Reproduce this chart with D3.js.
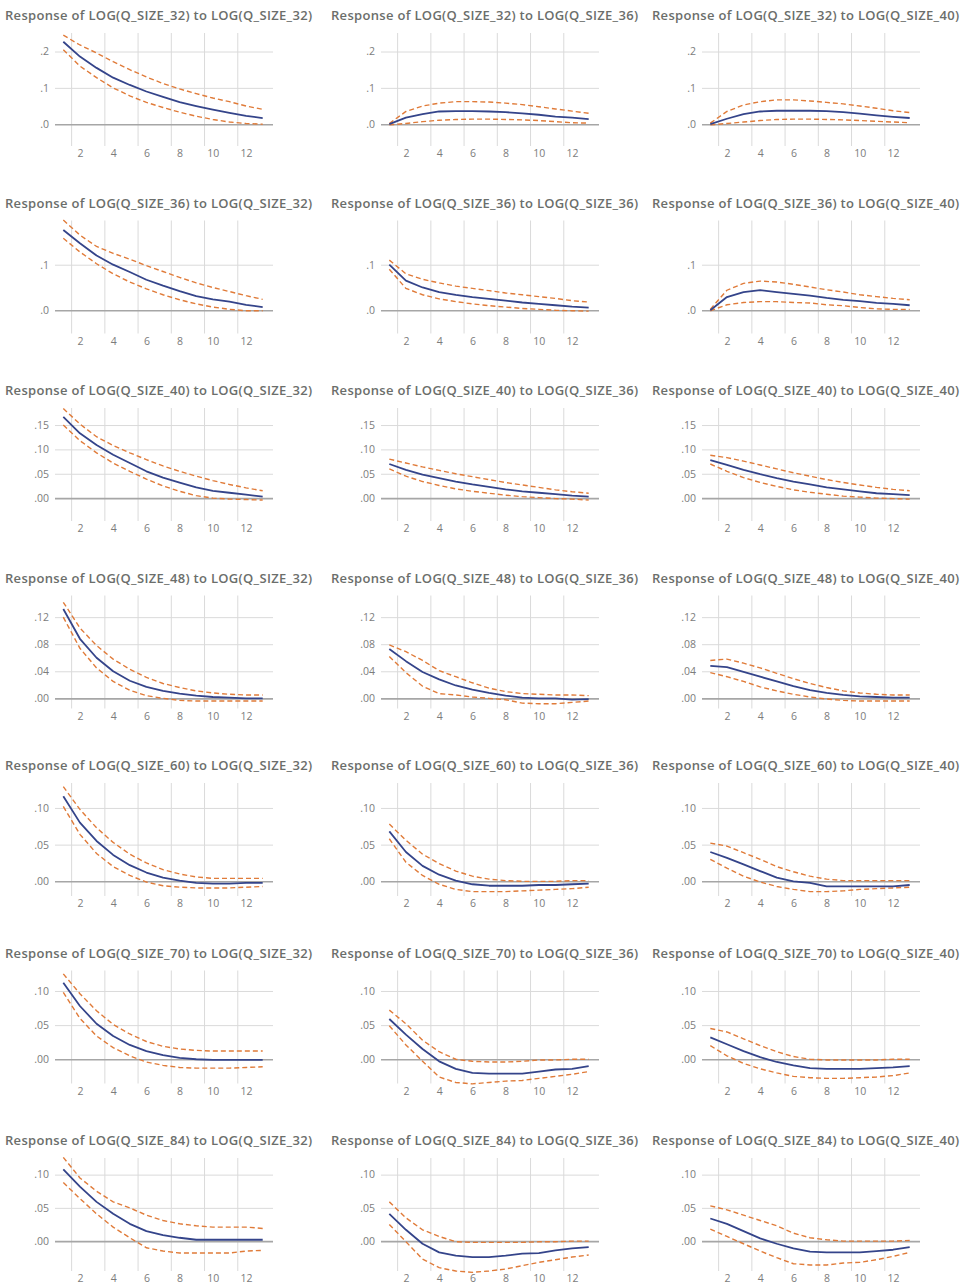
<!DOCTYPE html>
<html>
<head>
<meta charset="utf-8">
<script src="https://cdn.jsdelivr.net/npm/d3@7"></script>
<style>
  body { margin: 0; background: #fff; }
  svg { display: block; }
  .title { font-family: "Open Sans", sans-serif; font-size: 13px; font-weight: 600; fill: #6b6e6b; }
  .tick text { font-family: "Open Sans", sans-serif; font-size: 10.5px; fill: #7c7c7c; }
</style>
</head>
<body>
<svg id="chart" width="967" height="1287"></svg>
<script>
// impulse = column, response = row
var shocks = ["32", "36", "40"];
var responses = ["32", "36", "40", "48", "60", "70", "84"];
var xLabels = [2, 4, 6, 8, 10, 12];

// y ticks per response row
var rowTicks = [
  [0, 0.1, 0.2],
  [0, 0.1],
  [0, 0.05, 0.10, 0.15],
  [0, 0.04, 0.08, 0.12],
  [0, 0.05, 0.10],
  [0, 0.05, 0.10],
  [0, 0.05, 0.10]
];
var rowDomain = [
  [-0.060, 0.251],
  [-0.051, 0.197],
  [-0.047, 0.185],
  [-0.015, 0.152],
  [-0.020, 0.134],
  [-0.0355, 0.130],
  [-0.045, 0.125]
];
var rowDigits = [1, 1, 2, 2, 2, 2, 2];

// response / upper band / lower band, one array per shock (32, 36, 40), horizons 1..13
var irf32 = [
  [0.227,0.186,0.155,0.128,0.108,0.090,0.075,0.061,0.050,0.040,0.031,0.023,0.017],
  [0.000,0.018,0.028,0.035,0.036,0.036,0.035,0.033,0.030,0.026,0.021,0.018,0.014],
  [0.000,0.015,0.028,0.035,0.037,0.037,0.037,0.036,0.033,0.029,0.024,0.020,0.017]];
var hi32 = [
  [0.245,0.218,0.196,0.172,0.150,0.130,0.112,0.097,0.084,0.072,0.062,0.050,0.041],
  [0.002,0.035,0.050,0.058,0.062,0.062,0.061,0.058,0.054,0.048,0.042,0.036,0.030],
  [0.003,0.035,0.053,0.062,0.067,0.067,0.064,0.060,0.056,0.050,0.044,0.037,0.032]];
var lo32 = [
  [0.205,0.160,0.128,0.100,0.078,0.060,0.046,0.033,0.022,0.013,0.006,0.002,0.000],
  [-0.002,0.002,0.007,0.011,0.013,0.014,0.014,0.013,0.012,0.010,0.007,0.004,0.003],
  [-0.002,0.002,0.006,0.010,0.013,0.014,0.014,0.013,0.012,0.010,0.008,0.006,0.004]];

var irf36 = [
  [0.176,0.147,0.120,0.100,0.084,0.067,0.054,0.042,0.031,0.024,0.019,0.012,0.007],
  [0.100,0.065,0.050,0.040,0.034,0.029,0.025,0.021,0.017,0.014,0.011,0.008,0.006],
  [0.000,0.029,0.040,0.044,0.040,0.036,0.032,0.027,0.023,0.020,0.016,0.014,0.011]];
var hi36 = [
  [0.198,0.165,0.140,0.125,0.112,0.098,0.085,0.072,0.060,0.050,0.041,0.032,0.024],
  [0.110,0.080,0.068,0.060,0.053,0.048,0.043,0.038,0.034,0.030,0.026,0.021,0.018],
  [0.002,0.044,0.059,0.064,0.062,0.057,0.051,0.045,0.040,0.034,0.030,0.026,0.023]];
var lo36 = [
  [0.158,0.128,0.102,0.080,0.062,0.047,0.034,0.023,0.014,0.007,0.002,-0.001,-0.001],
  [0.090,0.048,0.034,0.025,0.019,0.014,0.010,0.007,0.004,0.002,0.000,-0.001,-0.002],
  [-0.001,0.012,0.017,0.019,0.019,0.017,0.016,0.012,0.010,0.006,0.003,0.002,0.002]];

var irf40 = [
  [0.167,0.133,0.109,0.089,0.072,0.055,0.042,0.032,0.022,0.015,0.011,0.007,0.003],
  [0.070,0.058,0.048,0.041,0.034,0.028,0.023,0.018,0.014,0.011,0.008,0.005,0.003],
  [0.078,0.068,0.058,0.049,0.041,0.034,0.028,0.022,0.018,0.014,0.010,0.008,0.006]];
var hi40 = [
  [0.184,0.152,0.126,0.108,0.093,0.079,0.066,0.055,0.045,0.036,0.028,0.021,0.015],
  [0.080,0.072,0.064,0.057,0.050,0.044,0.038,0.032,0.027,0.022,0.017,0.013,0.010],
  [0.088,0.083,0.076,0.068,0.060,0.052,0.045,0.038,0.032,0.027,0.022,0.018,0.015]];
var lo40 = [
  [0.150,0.118,0.093,0.072,0.055,0.039,0.025,0.014,0.005,0.000,-0.002,-0.003,-0.004],
  [0.060,0.045,0.034,0.026,0.019,0.014,0.010,0.006,0.003,0.001,-0.001,-0.002,-0.004],
  [0.070,0.055,0.042,0.032,0.024,0.017,0.012,0.008,0.004,0.002,0.000,-0.001,-0.002]];

var irf48 = [
  [0.132,0.088,0.060,0.040,0.026,0.017,0.011,0.007,0.004,0.002,0.001,0.000,0.000],
  [0.073,0.055,0.039,0.028,0.019,0.013,0.008,0.004,0.001,0.000,0.000,-0.002,-0.001],
  [0.048,0.046,0.039,0.032,0.025,0.018,0.012,0.008,0.005,0.003,0.002,0.001,0.001]];
var hi48 = [
  [0.142,0.104,0.078,0.058,0.043,0.031,0.022,0.016,0.011,0.008,0.006,0.005,0.005],
  [0.079,0.069,0.056,0.041,0.032,0.023,0.015,0.010,0.007,0.006,0.005,0.005,0.004],
  [0.056,0.058,0.052,0.045,0.037,0.029,0.022,0.016,0.011,0.008,0.006,0.005,0.005]];
var lo48 = [
  [0.120,0.074,0.045,0.025,0.012,0.004,0.000,-0.003,-0.004,-0.004,-0.004,-0.004,-0.004],
  [0.062,0.038,0.018,0.007,0.005,0.002,0.000,-0.002,-0.007,-0.008,-0.008,-0.006,-0.004],
  [0.038,0.032,0.025,0.017,0.011,0.006,0.002,-0.001,-0.003,-0.004,-0.004,-0.004,-0.004]];

var irf60 = [
  [0.116,0.080,0.055,0.036,0.022,0.012,0.005,0.001,-0.002,-0.003,-0.003,-0.002,-0.002],
  [0.068,0.040,0.021,0.009,0.001,-0.004,-0.006,-0.006,-0.006,-0.005,-0.005,-0.004,-0.003],
  [0.040,0.032,0.023,0.014,0.005,0.000,-0.002,-0.007,-0.007,-0.007,-0.007,-0.007,-0.005]];
var hi60 = [
  [0.129,0.098,0.073,0.053,0.037,0.025,0.016,0.010,0.006,0.004,0.004,0.004,0.004],
  [0.078,0.056,0.037,0.024,0.014,0.007,0.003,0.001,0.000,0.000,0.000,0.001,0.001],
  [0.052,0.048,0.039,0.030,0.020,0.013,0.007,0.003,0.001,0.001,0.001,0.001,0.001]];
var lo60 = [
  [0.102,0.064,0.038,0.020,0.008,-0.001,-0.006,-0.008,-0.009,-0.009,-0.009,-0.008,-0.007],
  [0.058,0.026,0.008,-0.004,-0.011,-0.014,-0.014,-0.014,-0.013,-0.012,-0.011,-0.010,-0.008],
  [0.030,0.018,0.007,-0.001,-0.007,-0.011,-0.014,-0.014,-0.013,-0.011,-0.010,-0.009,-0.008]];

var irf70 = [
  [0.112,0.078,0.052,0.034,0.021,0.012,0.006,0.002,0.000,-0.001,-0.001,-0.001,-0.001],
  [0.059,0.036,0.015,-0.003,-0.014,-0.020,-0.021,-0.021,-0.021,-0.018,-0.015,-0.014,-0.010],
  [0.032,0.022,0.012,0.003,-0.004,-0.009,-0.013,-0.014,-0.014,-0.014,-0.013,-0.012,-0.010]];
var hi70 = [
  [0.125,0.096,0.071,0.051,0.037,0.026,0.019,0.015,0.013,0.012,0.012,0.012,0.012],
  [0.072,0.052,0.028,0.011,0.000,-0.003,-0.004,-0.004,-0.003,-0.001,-0.001,0.000,0.000],
  [0.045,0.040,0.030,0.020,0.011,0.004,0.000,-0.001,-0.001,-0.001,-0.001,0.000,0.000]];
var lo70 = [
  [0.098,0.060,0.034,0.017,0.005,-0.004,-0.009,-0.012,-0.013,-0.013,-0.013,-0.012,-0.011],
  [0.049,0.021,-0.003,-0.026,-0.034,-0.036,-0.034,-0.032,-0.031,-0.028,-0.025,-0.022,-0.018],
  [0.020,0.005,-0.006,-0.014,-0.020,-0.025,-0.027,-0.028,-0.028,-0.027,-0.026,-0.024,-0.020]];

var irf84 = [
  [0.108,0.082,0.059,0.041,0.026,0.015,0.009,0.005,0.002,0.002,0.002,0.002,0.002],
  [0.041,0.017,-0.004,-0.017,-0.022,-0.024,-0.024,-0.022,-0.019,-0.018,-0.014,-0.011,-0.009],
  [0.034,0.026,0.015,0.004,-0.004,-0.011,-0.016,-0.017,-0.017,-0.017,-0.015,-0.013,-0.009]];
var hi84 = [
  [0.126,0.095,0.075,0.059,0.050,0.039,0.031,0.026,0.023,0.021,0.021,0.021,0.019],
  [0.059,0.035,0.017,0.007,-0.001,-0.002,-0.002,-0.002,-0.002,-0.001,-0.001,0.000,0.000],
  [0.053,0.047,0.039,0.031,0.023,0.012,0.005,0.002,0.000,0.000,0.000,0.000,0.001]];
var lo84 = [
  [0.088,0.064,0.041,0.021,0.005,-0.010,-0.015,-0.018,-0.018,-0.018,-0.018,-0.015,-0.014],
  [0.025,-0.001,-0.027,-0.040,-0.045,-0.047,-0.045,-0.042,-0.037,-0.032,-0.028,-0.024,-0.021],
  [0.018,0.007,-0.004,-0.015,-0.025,-0.034,-0.036,-0.036,-0.033,-0.032,-0.028,-0.023,-0.017]];

var irfRows = [irf32, irf36, irf40, irf48, irf60, irf70, irf84];
var hiRows  = [hi32, hi36, hi40, hi48, hi60, hi70, hi84];
var loRows  = [lo32, lo36, lo40, lo48, lo60, lo70, lo84];

var colX = [0, 326, 647],
  rowH = 187.5,
  plot = {left: 55, right: 271, top: 33, bottom: 146};

var svg = d3.select("#chart");

var x = d3.scaleLinear()
  .domain([0.5, 13.5])
  .range([plot.left, plot.right]);

responses.forEach(function(r, i) {
  var y = d3.scaleLinear()
    .domain(rowDomain[i])
    .range([plot.bottom, plot.top]);

  var fmt = function(v) {
    return d3.format("." + rowDigits[i] + "f")(v).replace(/^0/, "");
  };

  shocks.forEach(function(s, j) {
    var g = svg.append("g")
      .attr("transform", "translate(" + colX[j] + "," + (i * rowH) + ")");

    g.append("text")
      .attr("class", "title")
      .attr("x", 5)
      .attr("y", 20)
      .attr("textLength", 307)
      .attr("lengthAdjust", "spacing")
      .text("Response of LOG(Q_SIZE_" + r + ") to LOG(Q_SIZE_" + s + ")");

    // vertical grid between categories
    g.append("g").selectAll("line")
      .data(xLabels)
      .enter().append("line")
      .attr("x1", function(d) { return x(d - 0.5); })
      .attr("x2", function(d) { return x(d - 0.5); })
      .attr("y1", plot.top)
      .attr("y2", plot.bottom)
      .attr("stroke", "#dadada")
      .attr("stroke-width", 1);

    // y axis with horizontal grid
    var yAxis = g.append("g")
      .attr("transform", "translate(" + plot.left + ",0)")
      .call(d3.axisLeft(y)
        .tickValues(rowTicks[i])
        .tickFormat(fmt)
        .tickSize(-(plot.right - plot.left + 2))
        .tickPadding(6));
    yAxis.select(".domain").remove();
    yAxis.selectAll(".tick line")
      .attr("stroke", function(d) { return d === 0 ? "#a6a6a6" : "#dadada"; })
      .attr("stroke-width", function(d) { return d === 0 ? 1.6 : 1; });

    // x axis labels
    var xAxis = g.append("g")
      .attr("transform", "translate(0," + plot.bottom + ")")
      .call(d3.axisBottom(x)
        .tickValues(xLabels)
        .tickSize(0)
        .tickPadding(4));
    xAxis.select(".domain").remove();

    var line = d3.line()
      .x(function(d, k) { return x(k + 1); })
      .y(function(d) { return y(d); });

    [hiRows[i][j], loRows[i][j]].forEach(function(band) {
      g.append("path")
        .datum(band)
        .attr("fill", "none")
        .attr("stroke", "#e07b39")
        .attr("stroke-width", 1.4)
        .attr("stroke-dasharray", "5,3")
        .attr("d", line);
    });

    g.append("path")
      .datum(irfRows[i][j])
      .attr("fill", "none")
      .attr("stroke", "#34448a")
      .attr("stroke-width", 1.8)
      .attr("stroke-linejoin", "round")
      .attr("d", line);
  });
});
</script>
</body>
</html>
